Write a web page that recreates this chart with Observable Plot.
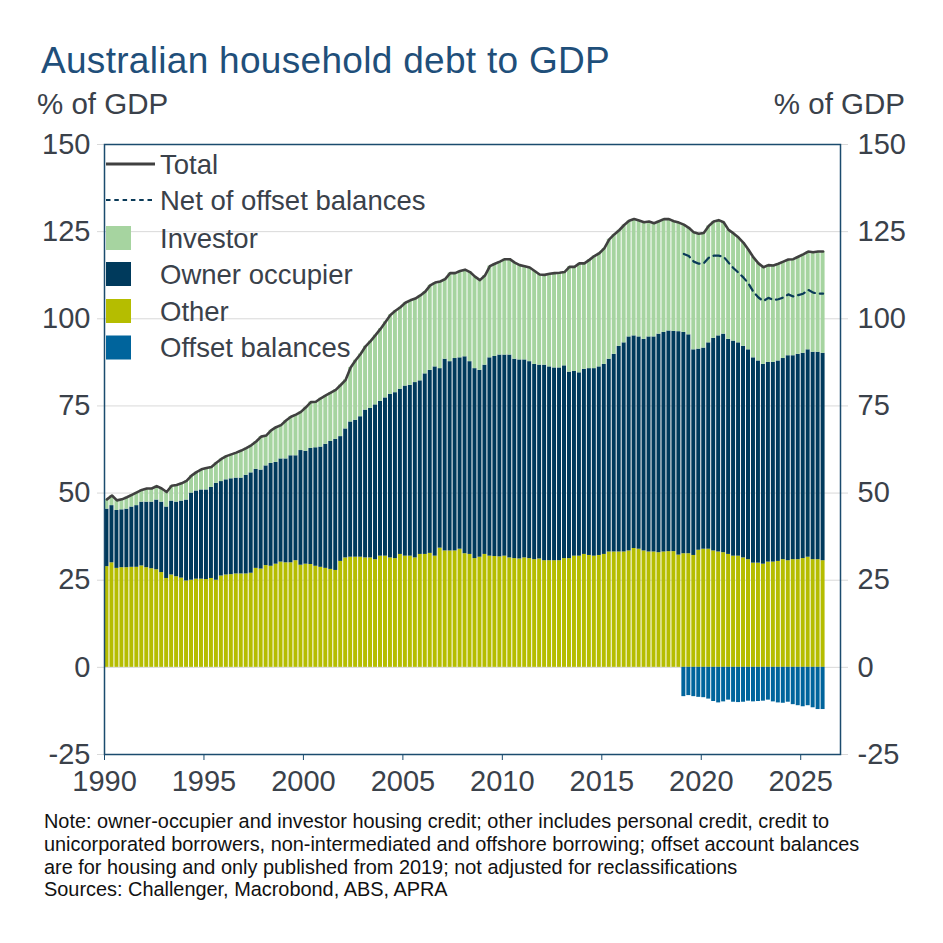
<!DOCTYPE html>
<html>
<head>
<meta charset="utf-8">
<script src="https://cdn.jsdelivr.net/npm/d3@7"></script>
<script src="https://cdn.jsdelivr.net/npm/@observablehq/plot@0.6"></script>
<style>
  body { margin: 0; background: #fff; font-family: "Liberation Sans", Arial, sans-serif; }
  #wrap { position: relative; width: 943px; height: 943px; overflow: hidden; background: #fff; }
  .abs { position: absolute; white-space: nowrap; }
  #title { left: 41px; top: 42px; font-size: 37px; line-height: 37px; color: #1f4f7a; letter-spacing: 0.3px; }
  .unit { top: 89px; font-size: 29.5px; line-height: 29.5px; color: #3a414a; }
  #unitL { left: 37px; }
  #unitR { right: 38px; }
  #chart { left: 0; top: 120px; }
  #legend { left: 0; top: 0; pointer-events: none; }
  #note { left: 44px; top: 810px; font-size: 19.9px; line-height: 22.8px; color: #111; }
</style>
</head>
<body>
<div id="wrap">
  <div class="abs" id="title">Australian household debt to GDP</div>
  <div class="abs unit" id="unitL">% of GDP</div>
  <div class="abs unit" id="unitR">% of GDP</div>
  <div class="abs" id="chart"></div>
  <svg class="abs" id="legend" width="943" height="400"></svg>
  <div class="abs" id="note"></div>
</div>
<script>
// ---------- data (quarterly, % of GDP), first quarter 1990 Q1 ----------
const firstYear = 1990;
const other = [
  28.9, 30.0, 28.4, 28.6, 28.6, 28.7, 28.7, 29.1, 28.6, 28.3,
  28.0, 27.2, 25.5, 26.5, 26.0, 25.6, 24.8, 25.0, 25.3, 25.3,
  25.2, 25.5, 25.0, 26.2, 26.5, 26.6, 26.8, 26.8, 26.8, 27.0,
  28.4, 28.2, 29.2, 29.0, 29.6, 30.2, 30.0, 30.0, 30.6, 29.3,
  29.6, 29.5, 29.0, 28.7, 28.4, 28.1, 27.8, 30.4, 31.4, 31.6,
  31.6, 31.6, 31.4, 31.4, 30.9, 31.9, 31.9, 31.4, 31.2, 32.4,
  31.9, 31.9, 31.4, 32.4, 32.4, 32.7, 31.9, 34.2, 33.4, 33.4,
  33.4, 33.9, 32.6, 32.4, 31.2, 31.6, 32.4, 31.9, 31.8,
  31.7, 31.9, 31.4, 31.2, 31.1, 31.4, 31.2, 30.9, 31.1, 30.6,
  30.6, 30.6, 30.6, 31.2, 31.2, 31.9, 31.9, 32.4, 32.1, 31.9,
  32.1, 32.4, 33.1, 33.1, 33.1, 33.1, 33.4, 34.1, 33.9, 33.4,
  33.1, 33.1, 32.9, 33.1, 33.2, 33.2, 32.2, 32.6, 32.6, 32.1,
  33.6, 33.9, 33.9, 33.4, 33.1, 32.9, 32.4, 31.9, 31.9, 31.4,
  30.9, 29.9, 29.9, 29.6, 30.2, 30.2, 30.4, 30.9, 30.6, 30.9,
  30.9, 31.2, 31.6, 30.9, 30.9, 30.6
];
// other + owner-occupier (top of the owner-occupier bar, as read)
const otherPlusOwnerOccupier = [
  45.4, 46.4, 45.0, 45.2, 45.4, 46.0, 46.4, 47.4, 47.4, 47.4,
  48.0, 47.4, 46.0, 47.7, 47.4, 47.7, 48.0, 50.0, 50.6, 50.9,
  50.9, 51.6, 52.8, 53.3, 53.8, 54.1, 54.3, 54.3, 55.1, 55.8,
  56.8, 56.6, 57.8, 58.5, 58.8, 59.8, 59.8, 60.7, 60.7, 62.2,
  62.0, 62.8, 63.0, 63.2, 64.0, 64.8, 65.4, 66.2, 68.4, 70.4,
  70.9, 71.9, 73.8, 74.3, 75.3, 76.3, 77.3, 78.3, 78.8, 79.8,
  80.7, 80.9, 81.7, 82.2, 84.2, 85.2, 86.2, 85.7, 88.4, 87.7,
  88.6, 88.8, 89.1, 87.7, 85.7, 85.2, 86.7, 88.8, 89.2,
  89.6, 89.6, 89.6, 88.4, 88.2, 88.2, 87.7, 86.9, 86.7, 86.7,
  86.2, 85.9, 85.9, 86.5, 84.7, 84.9, 84.5, 85.5, 85.7, 85.7,
  86.2, 86.9, 88.4, 89.8, 92.1, 93.1, 94.8, 95.1, 94.8, 94.1,
  94.8, 94.8, 95.6, 96.1, 96.5, 96.4, 96.3, 96.1, 95.4, 91.1,
  91.3, 91.6, 93.1, 94.4, 95.1, 95.6, 94.1, 93.6, 93.1, 92.1,
  91.1, 88.8, 87.9, 86.9, 87.5, 87.5, 87.9, 88.6, 89.4, 89.4,
  89.8, 90.1, 91.1, 90.4, 90.4, 90.1
];
const total = [
  48.2, 49.3, 47.9, 48.2, 48.8, 49.5, 50.2, 50.9, 51.3, 51.3,
  52.0, 51.3, 50.3, 52.1, 52.3, 52.8, 53.5, 55.0, 56.0, 56.8,
  57.2, 57.5, 58.7, 59.8, 60.6, 61.1, 61.6, 62.2, 62.9, 63.7,
  64.8, 66.2, 66.5, 68.0, 68.9, 69.5, 70.8, 71.9, 72.5, 73.3,
  74.6, 76.1, 76.2, 77.2, 78.0, 78.8, 79.6, 81.0, 82.5, 86.0,
  88.1, 89.9, 92.1, 93.6, 95.3, 97.1, 99.1, 101.1, 102.3, 103.3,
  104.6, 105.3, 105.8, 106.7, 107.8, 109.6, 110.4, 110.7, 111.4, 113.1,
  113.1, 113.7, 114.1, 113.4, 112.1, 111.1, 112.4, 115.1, 115.8,
  116.4, 117.1, 117.1, 116.1, 115.4, 115.1, 114.7, 113.7, 112.7, 112.6,
  112.9, 113.1, 113.2, 113.4, 114.9, 114.9, 115.9, 115.9, 116.9, 118.0,
  118.8, 120.2, 122.8, 124.2, 125.4, 126.9, 128.1, 128.6, 128.2, 127.7,
  127.9, 127.4, 128.0, 128.6, 128.6, 128.0, 127.6, 127.0, 126.1, 124.8,
  124.4, 124.6, 126.6, 127.9, 128.3, 127.7, 125.5, 124.5, 123.3, 121.8,
  119.8, 117.6, 115.9, 114.8, 115.4, 115.3, 115.8, 116.4, 117.0, 117.1,
  117.8, 118.5, 119.3, 119.1, 119.3, 119.3
];
// offset balances, published from 2019 Q1
const offsetFirstYear = 2019;
const offsetBalances = [
  -8.4, -8.1, -8.4, -8.6, -8.7, -9.1, -9.8, -10.2, -9.9, -9.4,
  -10.0, -10.1, -10.0, -9.7, -9.9, -9.8, -9.7, -9.4, -9.9, -10.2,
  -10.3, -10.0, -10.7, -11.0, -11.3, -11.0, -11.6, -12.1, -12.1
];
const netOfOffset = [
  118.6, 118.0, 116.4, 115.8, 115.9, 117.5, 118.1, 118.1, 117.8, 116.1,
  114.5, 113.2, 111.8, 110.1, 107.7, 106.1, 105.1, 106.0, 105.4, 105.6,
  106.1, 107.0, 106.4, 106.8, 107.2, 108.3, 107.5, 107.2, 107.2
];
const xTicks = [1990, 1995, 2000, 2005, 2010, 2015, 2020, 2025];
const yTicks = [-25, 0, 25, 50, 75, 100, 125, 150];
const seriesNames = ["Investor", "Owner occupier", "Other", "Offset balances"];
const seriesColors = ["#a6d4a0", "#003a5c", "#b5bd00", "#00649c"];
const lineNames = ["Total", "Net of offset balances"];
const noteLines = [
  "Note: owner-occupier and investor housing credit; other includes personal credit, credit to",
  "unicorporated borrowers, non-intermediated and offshore borrowing; offset account balances",
  "are for housing and only published from 2019; not adjusted for reclassifications",
  "Sources: Challenger, Macrobond, ABS, APRA"
];

// ---------- tables ----------
if (other.length !== total.length || otherPlusOwnerOccupier.length !== total.length) throw new Error("length mismatch");
if (offsetBalances.length !== netOfOffset.length) throw new Error("offset length mismatch");
const Q = 0.25;
const quarters = total.map((v, i) => firstYear + i * Q);
const stacked = [];
const totals = [];
quarters.forEach((t, i) => {
  stacked.push({t, t2: t + Q, series: "Other", value: other[i]});
  stacked.push({t, t2: t + Q, series: "Owner occupier", value: otherPlusOwnerOccupier[i] - other[i]});
  stacked.push({t, t2: t + Q, series: "Investor", value: total[i] - otherPlusOwnerOccupier[i]});
  totals.push({tm: t + Q / 2, value: total[i]});
});
const offsets = offsetBalances.map((v, i) => {
  const t = offsetFirstYear + i * Q;
  return {t, t2: t + Q, tm: t + Q / 2, series: "Offset balances", value: v, net: netOfOffset[i]};
});

const navy = "#1b4b6e";
const textCol = "#3a414a";
const gridCol = "#d9d9d9";
const tickFont = 29;

const chart = Plot.plot({
  width: 943,
  height: 681,
  marginLeft: 104,
  marginRight: 103,
  marginTop: 24,
  marginBottom: 47,
  style: {fontFamily: '"Liberation Sans", Arial, sans-serif', background: "transparent", color: textCol},
  x: {domain: [1990, 2027]},
  y: {domain: [-25, 150]},
  color: {domain: seriesNames, range: seriesColors},
  marks: [
    Plot.gridY(yTicks, {stroke: gridCol, strokeOpacity: 1, strokeWidth: 1}),
    Plot.rectY(stacked, {x1: "t", x2: "t2", y: "value", fill: "series", order: ["Other", "Owner occupier", "Investor"], insetLeft: 0.5, insetRight: 0.5}),
    Plot.rectY(offsets, {x1: "t", x2: "t2", y: "value", fill: "series", insetLeft: 0.5, insetRight: 0.5}),
    Plot.line(totals, {x: "tm", y: "value", stroke: "#404040", strokeWidth: 2.6}),
    Plot.line(offsets, {x: "tm", y: "net", stroke: "#0a3a58", strokeWidth: 2.2, strokeDasharray: "7,5"}),
    Plot.axisY({anchor: "left", ticks: yTicks, tickFormat: d => String(d), tickSize: 7, tickPadding: 7, stroke: gridCol, fill: textCol, fontSize: tickFont, label: null}),
    Plot.axisY({anchor: "right", ticks: yTicks, tickFormat: d => String(d), tickSize: 7, tickPadding: 10, stroke: gridCol, fill: textCol, fontSize: tickFont, label: null}),
    Plot.axisX({ticks: xTicks, tickFormat: d => String(d), tickSize: 6, tickPadding: 10, stroke: navy, fill: textCol, fontSize: tickFont, label: null}),
    Plot.frame({stroke: navy, strokeWidth: 1.5})
  ]
});
document.getElementById("chart").appendChild(chart);

// ---------- legend (inside plot, top-left) ----------
const lg = d3.select("#legend");
const lgFamily = '"Liberation Sans", Arial, sans-serif';
const lgSize = 27.5;
const rowsY = [164, 200, 238, 274, 311, 347.5];
const addText = (y, s) => lg.append("text").attr("x", 160).attr("y", y + 9.8)
  .attr("font-family", lgFamily).attr("font-size", lgSize).attr("fill", textCol).text(s);
lg.append("line").attr("x1", 106).attr("x2", 155).attr("y1", rowsY[0]).attr("y2", rowsY[0])
  .attr("stroke", "#404040").attr("stroke-width", 3);
addText(rowsY[0], lineNames[0]);
lg.append("line").attr("x1", 106).attr("x2", 155).attr("y1", rowsY[1]).attr("y2", rowsY[1])
  .attr("stroke", "#0a3a58").attr("stroke-width", 2).attr("stroke-dasharray", "4.5,3.8");
addText(rowsY[1], lineNames[1]);
seriesNames.forEach((name, k) => {
  const y = rowsY[k + 2];
  lg.append("rect").attr("x", 106).attr("y", y - 12).attr("width", 25).attr("height", 24).attr("fill", seriesColors[k]);
  addText(y, name);
});

// ---------- note ----------
document.getElementById("note").innerHTML = noteLines.join("<br>");
</script>
</body>
</html>
